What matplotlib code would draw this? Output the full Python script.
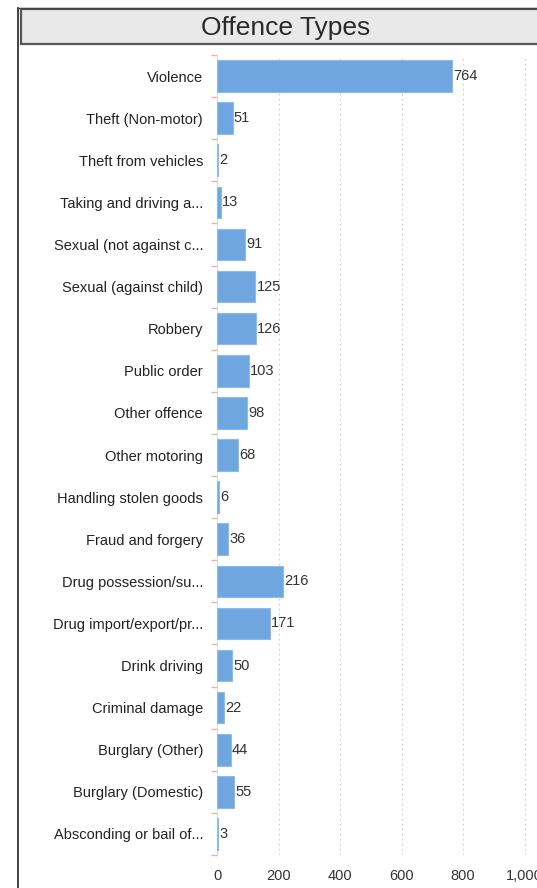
import numpy as np
import matplotlib.pyplot as plt
from matplotlib.patches import Rectangle
from matplotlib.lines import Line2D

plt.rcParams['font.family'] = ['Liberation Sans', 'DejaVu Sans']

# offence categories, top to bottom as in the chart
categories = [
    "Violence", "Theft (Non-motor)", "Theft from vehicles", "Taking and driving a...",
    "Sexual (not against c...", "Sexual (against child)", "Robbery", "Public order",
    "Other offence", "Other motoring", "Handling stolen goods", "Fraud and forgery",
    "Drug possession/su...", "Drug import/export/pr...", "Drink driving",
    "Criminal damage", "Burglary (Other)", "Burglary (Domestic)", "Absconding or bail of...",
]
counts = [764, 51, 2, 13, 91, 125, 126, 103, 98, 68, 6, 36, 216, 171, 50, 22, 44, 55, 3]
xticks = [0, 200, 400, 600, 800, 1000]
xtick_labels = ["0", "200", "400", "600", "800", "1,000"]

W, H = 537, 888
fig = plt.figure(figsize=(W / 100, H / 100), dpi=100)

# frame line on the left and top, and the title bar
fig.add_artist(Line2D([18 / W, 18 / W], [0, 1 - 8 / H], color="#222222", lw=1.2))
fig.add_artist(Line2D([18 / W, 1], [1 - 8 / H, 1 - 8 / H], color="#444444", lw=1.0))
fig.add_artist(Rectangle((21 / W, 1 - 44 / H), 1 - 21 / W + 0.01, 35 / H,
                         facecolor="#e9e9e9", edgecolor="#555555", lw=1.6))
fig.text(286 / W, 1 - 28 / H, "Offence Types", ha="center", va="center",
         fontsize=19, color="#2a2a2a")

ax = fig.add_axes([217 / W, 1 - 855 / H, 1 - 217 / W, 800 / H])
y = np.arange(len(categories))
ax.barh(y, counts, height=0.75, color="#6fa6e0", edgecolor="#8dbbec", lw=0.8, zorder=3)
for yi, c in zip(y, counts):
    ax.text(c + 4, yi, str(c), va="center", ha="left", fontsize=10.5, color="#333333", zorder=4)

ax.set_xlim(0, 1040)
ax.set_ylim(len(categories) - 0.5, -0.5)
ax.set_yticks(y)
ax.set_yticklabels(categories, fontsize=10.5, color="#222222")
ax.set_xticks(xticks)
ax.set_xticklabels(xtick_labels, fontsize=10.5, color="#333333")
ax.tick_params(axis="y", length=0, pad=10)
ax.tick_params(axis="x", length=0, pad=10)
# little ticks between categories
ax.set_yticks(np.arange(-0.5, len(categories), 1), minor=True)
ax.tick_params(axis="y", which="minor", length=4, color="#d9b8b0", width=1)

ax.grid(axis="x", color="#cccccc", linestyle=(0, (1.5, 3)), lw=0.8, zorder=0)
for side in ["top", "right", "bottom"]:
    ax.spines[side].set_visible(False)
ax.spines["left"].set_color("#dddddd")

fig.savefig("out.png", dpi=100)
